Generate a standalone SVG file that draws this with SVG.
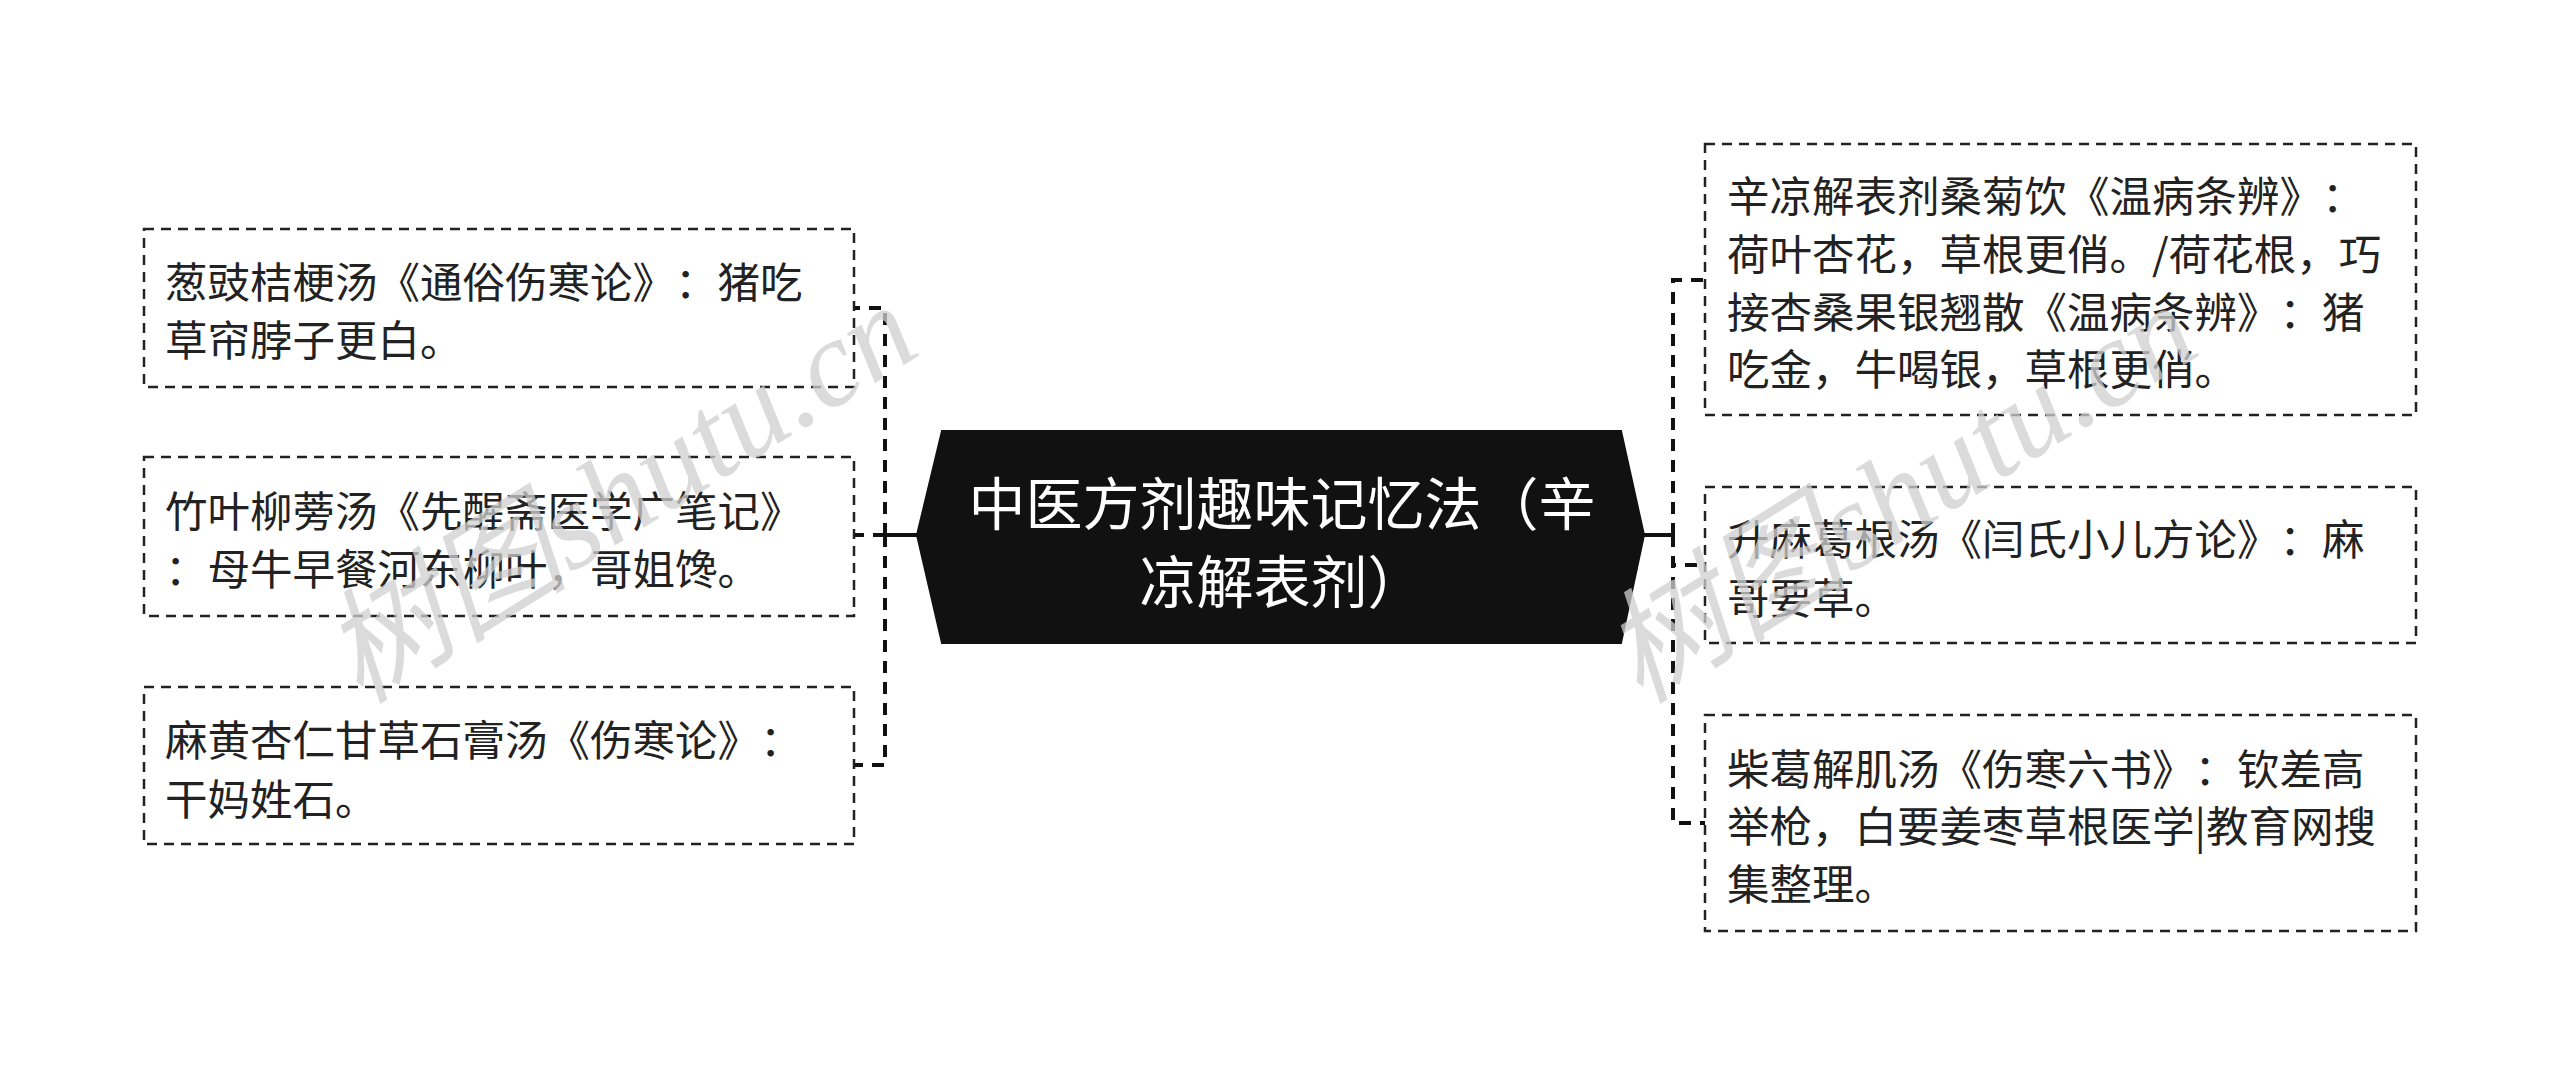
<svg xmlns="http://www.w3.org/2000/svg" width="2560" height="1075" viewBox="0 0 2560 1075">
<style>
.bg{fill:#ffffff}
.box{fill:#ffffff;stroke:#222;stroke-width:2.5;stroke-dasharray:10 7}
.t{font-family:"Noto Sans CJK SC","Noto Sans",sans-serif;font-size:42.5px;fill:#222;dominant-baseline:central;text-spacing-trim:space-all}
.ct{font-family:"Noto Sans CJK SC","Noto Sans",sans-serif;font-size:57px;fill:#ffffff;dominant-baseline:central;text-anchor:middle;text-spacing-trim:space-all}
.con{fill:none;stroke:#111;stroke-width:4;stroke-dasharray:12 9}
.solid{fill:none;stroke:#111;stroke-width:4}
.wm{font-family:"Liberation Serif","Noto Sans CJK SC",serif;font-size:124px;font-style:italic;fill:#d0d0d0;opacity:0.75}
</style>
<rect class="bg" x="0" y="0" width="2560" height="1075"/>
<g id="connectors">
<path class="solid" d="M917,535 L885,535"/>
<path class="con" d="M885,535 L885,308 L854,308"/>
<path class="con" d="M885,535 L854,535"/>
<path class="con" d="M885,535 L885,765 L854,765"/>
<path class="solid" d="M1644,535 L1673,535"/>
<path class="con" d="M1673,535 L1673,280 L1705,280"/>
<path class="con" d="M1673,535 L1673,565 L1705,565"/>
<path class="con" d="M1673,535 L1673,823 L1705,823"/>
</g>
<g id="center">
<polygon points="917,535 942,431 1621,431 1644,535 1621,643 942,643" fill="#111111" stroke="#111" stroke-width="2"/>
<text class="ct" x="1282" y="500">中医方剂趣味记忆法（辛</text>
<text class="ct" x="1282" y="578">凉解表剂）</text>
</g>
<g id="node-l1">
<rect class="box" x="144" y="229" width="710" height="158"/>
<text class="t" x="165" y="279">葱豉桔梗汤《通俗伤寒论》：猪吃</text>
<text class="t" x="165" y="337">草帘脖子更白。</text>
</g>
<g id="node-l2">
<rect class="box" x="144" y="457" width="710" height="159"/>
<text class="t" x="165" y="508">竹叶柳蒡汤《先醒斋医学广笔记》</text>
<text class="t" x="165" y="566">：母牛早餐河东柳叶，哥姐馋。</text>
</g>
<g id="node-l3">
<rect class="box" x="144" y="687" width="710" height="157"/>
<text class="t" x="165" y="737">麻黄杏仁甘草石膏汤《伤寒论》：</text>
<text class="t" x="165" y="796">干妈姓石。</text>
</g>
<g id="node-r1">
<rect class="box" x="1705" y="144" width="711" height="271"/>
<text class="t" x="1727" y="193">辛凉解表剂桑菊饮《温病条辨》：</text>
<text class="t" x="1727" y="251">荷叶杏花，草根更俏。/荷花根，巧</text>
<text class="t" x="1727" y="309">接杏桑果银翘散《温病条辨》：猪</text>
<text class="t" x="1727" y="366">吃金，牛喝银，草根更俏。</text>
</g>
<g id="node-r2">
<rect class="box" x="1705" y="487" width="711" height="156"/>
<text class="t" x="1727" y="536">升麻葛根汤《闫氏小儿方论》：麻</text>
<text class="t" x="1727" y="595">哥要草。</text>
</g>
<g id="node-r3">
<rect class="box" x="1705" y="715" width="711" height="216"/>
<text class="t" x="1727" y="766">柴葛解肌汤《伤寒六书》：钦差高</text>
<text class="t" x="1727" y="823">举枪，白要姜枣草根医学|教育网搜</text>
<text class="t" x="1727" y="881">集整理。</text>
</g>
<g id="watermarks">
<text class="wm" transform="translate(360,705) rotate(-32)">树图shutu.cn</text>
<text class="wm" transform="translate(1640,705) rotate(-32)">树图shutu.cn</text>
</g>
</svg>
